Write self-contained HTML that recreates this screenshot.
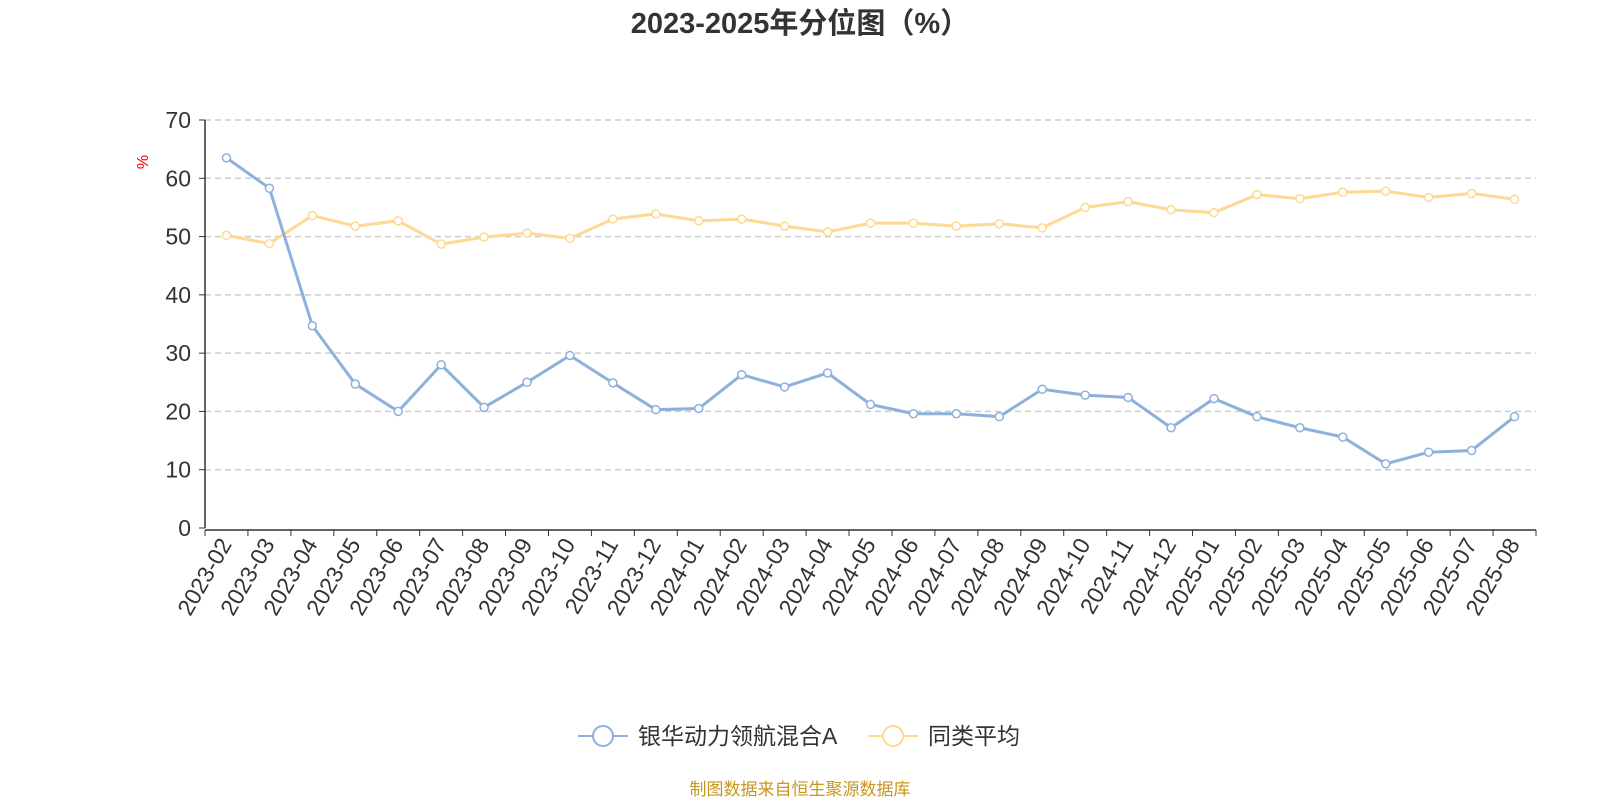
<!DOCTYPE html>
<html><head><meta charset="utf-8"><style>
body{margin:0;background:#fff;width:1600px;height:800px;overflow:hidden}
svg{font-family:"Liberation Sans","Noto Sans CJK SC",sans-serif}
</style></head><body>
<svg id="c" width="1600" height="800">
<text x="800" y="33" text-anchor="middle" font-size="29" font-weight="bold" fill="#333">2023-2025年分位图（%）</text>
<text x="148" y="162" font-size="16" fill="#e00" transform="rotate(-90 148 162)" text-anchor="middle">%</text>
<g id="grid"></g><g id="axes"></g><g id="series"></g>
<g>
<g><line x1="578" y1="736" x2="628" y2="736" stroke="#8eb0dc" stroke-width="2"/><circle cx="603" cy="736" r="10" fill="#fff" stroke="#8eb0dc" stroke-width="2"/><text x="638" y="744" font-size="23" fill="#333">银华动力领航混合A</text></g>
<g><line x1="868" y1="736" x2="918" y2="736" stroke="#fdd993" stroke-width="2"/><circle cx="893" cy="736" r="10" fill="#fff" stroke="#fdd993" stroke-width="2"/><text x="928" y="744" font-size="23" fill="#333">同类平均</text></g>
</g>
<text x="800" y="795" text-anchor="middle" font-size="17" fill="#c8961e">制图数据来自恒生聚源数据库</text>
</svg>
<script>
const categories=["2023-02","2023-03","2023-04","2023-05","2023-06","2023-07","2023-08","2023-09","2023-10","2023-11","2023-12","2024-01","2024-02","2024-03","2024-04","2024-05","2024-06","2024-07","2024-08","2024-09","2024-10","2024-11","2024-12","2025-01","2025-02","2025-03","2025-04","2025-05","2025-06","2025-07","2025-08"];
const fundValues=[63.5,58.3,34.7,24.7,20,28,20.7,25,29.6,24.9,20.3,20.5,26.3,24.2,26.6,21.2,19.6,19.6,19.1,23.8,22.8,22.4,17.2,22.2,19.1,17.2,15.6,11,13,13.3,19.1];
const avgValues=[50.2,48.8,53.6,51.8,52.7,48.7,49.9,50.6,49.7,53,53.9,52.7,53,51.8,50.8,52.3,52.3,51.8,52.2,51.5,55,56,54.6,54.1,57.2,56.5,57.6,57.8,56.7,57.4,56.4];
const yTicks=[0,10,20,30,40,50,60,70];
const NS="http://www.w3.org/2000/svg";
const L=205,R=1536,T=120,B=528,yMax=70;
const bw=(R-L)/categories.length;
const xS=i=>L+bw*(i+0.5);
const yS=v=>B-(v/yMax)*(B-T);
function mk(tag,attrs,parent){const e=document.createElementNS(NS,tag);for(const k in attrs)e.setAttribute(k,attrs[k]);parent.appendChild(e);return e;}
const grid=document.getElementById('grid'),axes=document.getElementById('axes'),ser=document.getElementById('series');
yTicks.forEach(t=>{
 if(t>0){const g=mk('line',{x1:L,x2:R,y1:yS(t),y2:yS(t),stroke:'#ccc','stroke-width':1.5,'stroke-dasharray':'6,4'},grid);
 
 }
 const tk=mk('line',{x1:L-6,x2:L,y1:yS(t),y2:yS(t),stroke:'#333'},axes);
 
 
 const tx=mk('text',{x:L-14,y:yS(t)+8,'text-anchor':'end','font-size':23,fill:'#333'},axes);tx.textContent=t;
 
 
});
const ya=mk('line',{x1:L,x2:L,y1:T,y2:B,stroke:'#333','stroke-width':1.5},axes);


const xa=mk('line',{x1:L,x2:R,y1:B+2,y2:B+2,stroke:'#333','stroke-width':1.5},axes);


for(let i=0;i<=categories.length;i++){const t=mk('line',{x1:L+bw*i,x2:L+bw*i,y1:B+2,y2:B+8,stroke:'#333'},axes);
 
 }
categories.forEach((c,i)=>{const x=xS(i)+6,y=B+16;
 const t=mk('text',{x:x,y:y,'text-anchor':'end','font-size':23,fill:'#333',transform:`rotate(-60 ${x} ${y})`},axes);t.textContent=c;
 
 });
function draw(vals,color,name){
 const p=mk('polyline',{points:vals.map((v,i)=>xS(i)+','+yS(v)).join(' '),fill:'none',stroke:color,'stroke-width':3},ser);
 
 
 vals.forEach((v,i)=>{const c=mk('circle',{cx:xS(i),cy:yS(v),r:4,fill:'#fff',stroke:color,'stroke-width':1.5},ser);
 
 });
}
draw(avgValues,'#fdd993','average');
draw(fundValues,'#8eb0dc','fund');
</script>
</body></html>
